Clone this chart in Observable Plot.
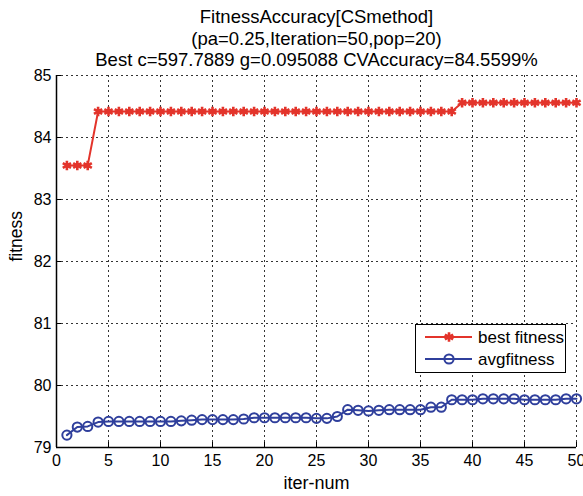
<!DOCTYPE html>
<html><head><meta charset="utf-8">
<script src="https://cdn.jsdelivr.net/npm/d3@7"></script>
<script src="https://cdn.jsdelivr.net/npm/@observablehq/plot@0.6"></script>
<style>
body{margin:0;background:#fff;font-family:"Liberation Sans",Arial,sans-serif}
#wrap{position:relative;width:583px;height:496px}
#legend{position:absolute;left:415px;top:324px}
</style>
</head><body><div id="wrap"><div id="legend"></div></div>
<script>
const iterations = [1,2,3,4,5,6,7,8,9,10,11,12,13,14,15,16,17,18,19,20,21,22,23,24,25,26,27,28,29,30,31,32,33,34,35,36,37,38,39,40,41,42,43,44,45,46,47,48,49,50];
const bestFitness = [83.55,83.55,83.55,
  84.42,84.42,84.42,84.42,84.42,84.42,84.42,84.42,84.42,84.42,
  84.42,84.42,84.42,84.42,84.42,84.42,84.42,84.42,84.42,84.42,
  84.42,84.42,84.42,84.42,84.42,84.42,84.42,84.42,84.42,84.42,
  84.42,84.42,84.42,84.42,84.42,
  84.56,84.56,84.56,84.56,84.56,84.56,84.56,84.56,84.56,84.56,84.56,84.56];
const avgFitness = [79.20,79.33,79.34,79.41,79.42,79.42,79.42,79.42,79.42,79.42,
  79.42,79.43,79.44,79.45,79.45,79.45,79.45,79.46,79.48,79.48,
  79.48,79.48,79.48,79.48,79.47,79.47,79.50,79.61,79.60,79.59,
  79.60,79.61,79.61,79.61,79.61,79.65,79.65,79.77,79.77,79.77,
  79.785,79.785,79.785,79.785,79.77,79.77,79.77,79.77,79.785,79.785];
const xTicks = [0,5,10,15,20,25,30,35,40,45,50];
const yTicks = [79,80,81,82,83,84,85];
const titleLines = ["FitnessAccuracy[CSmethod]","(pa=0.25,Iteration=50,pop=20)","Best c=597.7889 g=0.095088 CVAccuracy=84.5599%"];
const seriesNames = ["best fitness","avgfitness"];
const xLabel = "iter-num", yLabel = "fitness";
const red = "#e3342b", blue = "#2f3f9c";

const best = iterations.map((x,i)=>({x, y:bestFitness[i]}));
const avg = iterations.map((x,i)=>({x, y:avgFitness[i]}));

const chart = Plot.plot({
  width:583, height:496,
  marginLeft:56, marginRight:7, marginTop:75, marginBottom:49,
  x:{domain:[0,50]}, y:{domain:[79,85]},
  style:{fontFamily:"'Liberation Sans',Arial,sans-serif", fontSize:"16px", color:"#000", background:"#fff"},
  marks:[
    Plot.gridX(xTicks.slice(1), {stroke:"#000", strokeOpacity:1, strokeWidth:0.8, strokeDasharray:"2,3"}),
    Plot.gridY(yTicks.slice(1), {stroke:"#000", strokeOpacity:1, strokeWidth:0.8, strokeDasharray:"2,3"}),
    Plot.axisX({ticks:xTicks, tickSize:-5, tickPadding:12, tickFormat:"d", label:null, fontSize:16}),
    Plot.axisY({ticks:yTicks, tickSize:-5, tickPadding:10, tickFormat:"d", label:null, fontSize:16}),
    Plot.ruleX([0], {stroke:"#000", strokeWidth:1.5}),
    Plot.ruleY([79], {stroke:"#000", strokeWidth:1.5}),
    Plot.line(best, {x:"x", y:"y", stroke:red, strokeWidth:2}),
    Plot.dot(best, {x:"x", y:"y", symbol:"asterisk", r:4.5, stroke:red, strokeWidth:2.6}),
    Plot.line(avg, {x:"x", y:"y", stroke:blue, strokeWidth:2}),
    Plot.dot(avg, {x:"x", y:"y", r:4.6, stroke:blue, strokeWidth:2, fill:"none"}),
    Plot.text([titleLines[0]], {frameAnchor:"top", dy:-66, fontSize:18.5, text:d=>d}),
    Plot.text([titleLines[1]], {frameAnchor:"top", dy:-44, fontSize:18.5, text:d=>d}),
    Plot.text([titleLines[2]], {frameAnchor:"top", dy:-23, fontSize:18.5, text:d=>d}),
    Plot.text([xLabel], {frameAnchor:"bottom", dy:41, fontSize:18, text:d=>d}),
    Plot.text([yLabel], {frameAnchor:"left", dx:-40, rotate:-90, fontSize:17.5, text:d=>d})
  ]
});
document.getElementById("wrap").prepend(chart);

// legend
const lg = d3.select("#legend").append("svg").attr("width",152).attr("height",50)
  .style("font-family","'Liberation Sans',Arial,sans-serif").style("font-size","17px");
lg.append("rect").attr("x",0.5).attr("y",0.5).attr("width",150).attr("height",48).attr("fill","#fff").attr("stroke","#000");
const rows = [{name:seriesNames[0], c:red, y:13}, {name:seriesNames[1], c:blue, y:35}];
rows.forEach(r=>{
  lg.append("line").attr("x1",10).attr("x2",57).attr("y1",r.y).attr("y2",r.y).attr("stroke",r.c).attr("stroke-width",2);
  lg.append("text").attr("x",63).attr("y",r.y).attr("dy","0.35em").text(r.name);
});
lg.append("path").attr("d",d3.symbol(d3.symbolAsterisk, 64)()).attr("transform","translate(34,13)").attr("stroke",red).attr("stroke-width",2.6).attr("fill","none");
lg.append("circle").attr("cx",34).attr("cy",35).attr("r",4.6).attr("stroke",blue).attr("stroke-width",2).attr("fill","none");
</script>
</body></html>
